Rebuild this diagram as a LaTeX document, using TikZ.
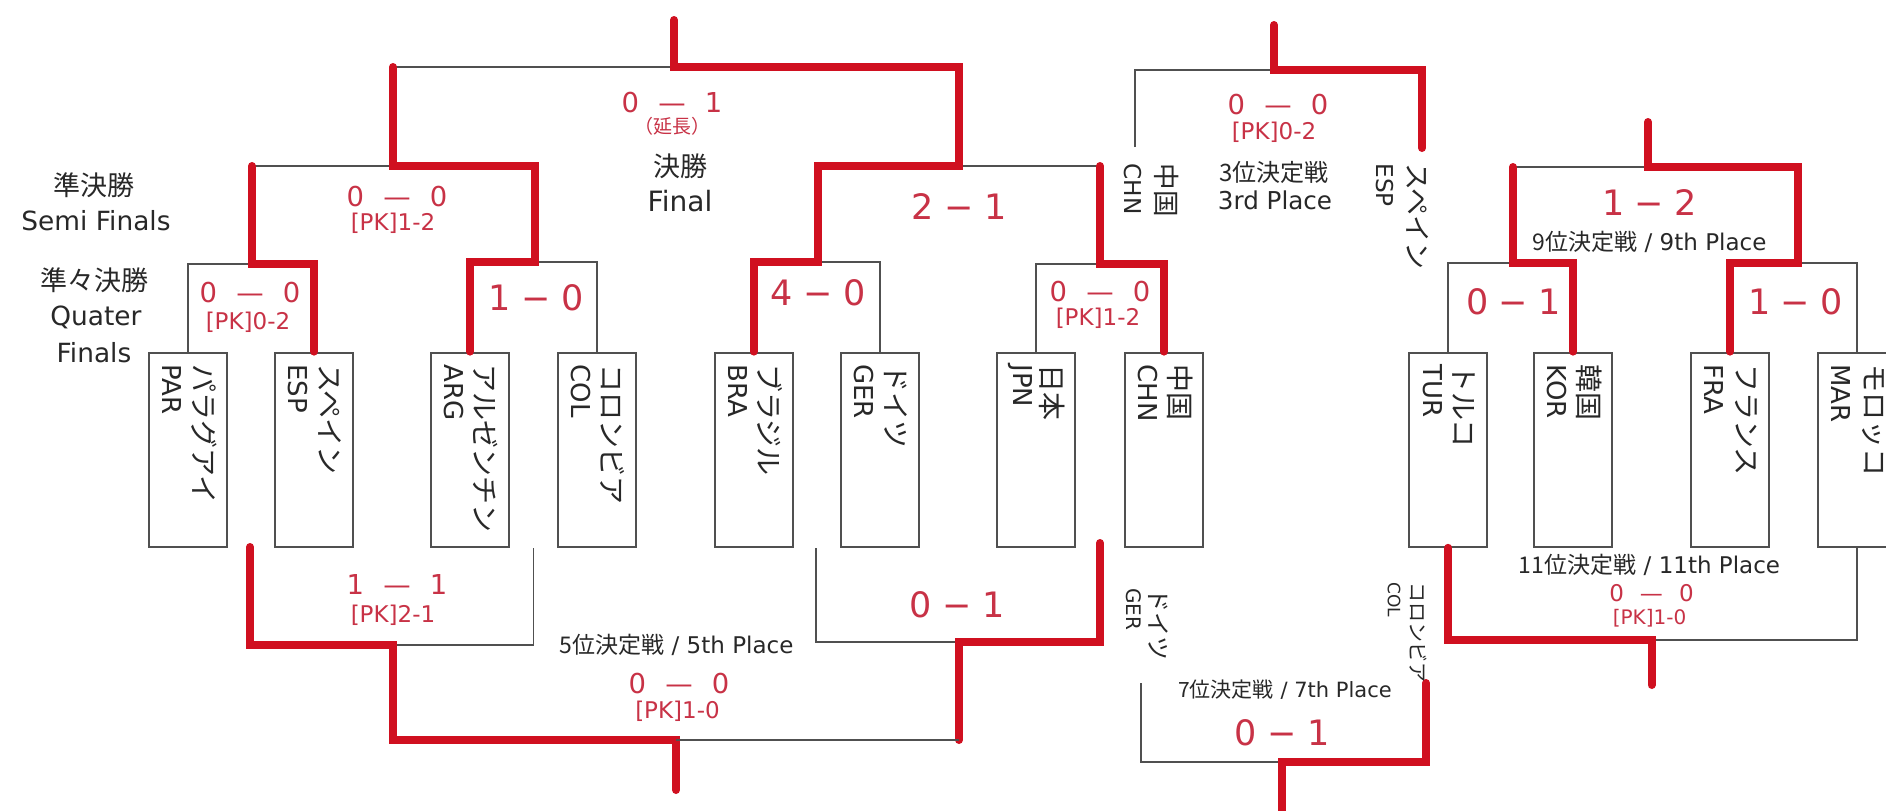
\documentclass[tikz,border=0pt]{standalone}
\usepackage{fontspec}
\setmainfont{DejaVu Sans}
\newfontfamily\jp{Noto Sans CJK JP}
\definecolor{rl}{RGB}{208,16,32}
\definecolor{rt}{RGB}{200,50,70}
\definecolor{bl}{RGB}{80,80,80}
\definecolor{tx}{RGB}{40,40,40}
\newcommand{\myfs}[1]{\fontsize{#1}{#1}\selectfont}
\newcommand{\myscore}[2]{#1\hspace{.7em}—\hspace{.7em}#2}
\newcommand{\bigscore}[2]{#1\hspace{.3em}−\hspace{.3em}#2}
\tikzset{
  winln/.style={draw=rl, line width=4pt, line cap=round, line join=miter},
  loseln/.style={draw=bl, line width=0.9pt},
  teambox/.style={draw=bl, line width=1.1pt, minimum width=39pt, minimum height=97pt, inner sep=0pt, fill=white},
  kanalbl/.style={rotate=-90, anchor=west, inner sep=0pt, text=tx, font=\jp\myfs{14}},
  codelbl/.style={rotate=-90, anchor=west, inner sep=0pt, text=tx, font=\myfs{13}},
  scorelbl/.style={text=rt, inner sep=0pt, font=\myfs{13.7}},
  pklbl/.style={text=rt, inner sep=0pt, font=\myfs{11.5}},
  biglbl/.style={text=rt, inner sep=0pt, font=\myfs{17.5}},
  placelbl/.style={text=tx, inner sep=0pt, font=\myfs{11.5}},
  stagelbl/.style={text=tx, inner sep=0pt, font=\myfs{13.2}},
  stagejp/.style={text=tx, inner sep=0pt, font=\jp\myfs{13.5}},
}
\begin{document}
\begin{tikzpicture}[x=0.5pt,y=-0.5pt]
\clip (0,0) rectangle (1886,810);
\fill[white] (0,0) rectangle (1886,810);

% team boxes
\foreach \nm/\cx/\kn in {PAR/188.3/パラグアイ, ESP/314.2/スペイン, ARG/469.9/アルゼンチン, COL/597/コロンビア,
  BRA/753.6/ブラジル, GER/880/ドイツ, JPN/1036.2/日本, CHN/1164/中国,
  TUR/1448.3/トルコ, KOR/1573.3/韓国, FRA/1730/フランス, MAR/1857.3/モロッコ}{
  \node[teambox] (\nm) at (\cx,449.7) {};
  \node[kanalbl] (\nm j) at (\cx+16,364) {\kn};
  \node[codelbl] (\nm c) at (\cx-16,364) {\nm};
}

% junction coordinates
\coordinate (q1) at (252,264);
\coordinate (q2) at (535,262);
\coordinate (q3) at (818,262);
\coordinate (q4) at (1100,264);
\coordinate (s1) at (393,166);
\coordinate (s2) at (959,166);
\coordinate (fj) at (674,67);
\coordinate (ftop) at (674,20);

% main bracket
\draw[loseln] (PAR.north) |- (q1);
\draw[loseln] (COL.north) |- (q2);
\draw[loseln] (GER.north) |- (q3);
\draw[loseln] (JPN.north) |- (q4);
\draw[loseln] (252,166) -- (s1);
\draw[loseln] (s1 |- fj) -- (fj);
\draw[loseln] (s2) -- (1100,166);
\draw[winln] (ESP.north) |- (q1) -- (252,166);
\draw[winln] (ARG.north) |- (q2) -- (535,166) -- (s1) -- (s1 |- fj);
\draw[winln] (BRA.north) |- (q3) -- (818,166) -- (s2) -- (s2 |- fj) -- (fj) -- (ftop);
\draw[winln] (CHN.north) |- (q4) -- (1100,166);

% 3rd place
\coordinate (t3) at (1274,70);
\draw[loseln] (1135,147) -- (1135,70) -- (t3);
\draw[winln] (1422,148) -- (1422,70) -- (t3) -- (1274,25);

% 9th place
\coordinate (n1) at (1513,263);
\coordinate (n2) at (1798,263);
\coordinate (n9) at (1648,167);
\draw[loseln] (TUR.north) |- (n1);
\draw[loseln] (MAR.north) |- (n2);
\draw[loseln] (1513,167) -- (n9);
\draw[winln] (KOR.north) |- (n1) -- (1513,167);
\draw[winln] (FRA.north) |- (n2) -- (1798,167) -- (n9) -- (1648,122);

% 5th place
\coordinate (p1) at (393,645);
\coordinate (p2) at (959,642);
\coordinate (p5) at (676,740);
\draw[loseln] (533.5,548) -- (533.5,645) -- (p1);
\draw[winln] (250,547) -- (250,645) -- (p1) -- (393,740) -- (p5) -- (676,790);
\draw[loseln] (816,548) -- (816,642) -- (p2);
\draw[winln] (1100,543) -- (1100,642) -- (p2) -- (959,740);
\draw[loseln] (959,740) -- (p5);

% 7th place
\coordinate (p7) at (1282,762);
\draw[loseln] (1141,683) -- (1141,762) -- (p7);
\draw[winln] (1426,683) -- (1426,762) -- (p7) -- (1282,830);

% 11th place
\coordinate (p11) at (1651.5,640);
\draw[loseln] (MAR.south) |- (p11);
\draw[winln] (TUR.south) |- (p11) -- (1651.5,685);

% stage labels
\node[stagejp] (l1) at (94,185) {準決勝};
\node[stagelbl] (l2) at (96,221) {Semi Finals};
\node[stagejp] (l3) at (94,280) {準々決勝};
\node[stagelbl] (l4) at (96,317) {Quater};
\node[stagelbl] (l5) at (94,353) {Finals};

% final
\node[scorelbl] (fs) at (672,103) {\myscore{0}{1}};
\node[text=rt, inner sep=0pt, font=\jp\myfs{9.5}] (fe) at (672,126) {（延長）};
\node[stagejp] (fl1) at (680,166) {決勝};
\node[stagelbl, font=\myfs{14}] (fl2) at (680,201) {Final};

% semis / qf scores
\node[scorelbl] (s1s) at (397,197) {\myscore{0}{0}};
\node[pklbl] (s1p) at (393,223) {[PK]1-2};
\node[biglbl] (s2s) at (959,207) {\bigscore{2}{1}};
\node[scorelbl] (q1s) at (250,293) {\myscore{0}{0}};
\node[pklbl] (q1p) at (248,322) {[PK]0-2};
\node[biglbl] (q2s) at (536,298) {\bigscore{1}{0}};
\node[biglbl] (q3s) at (818,293) {\bigscore{4}{0}};
\node[scorelbl] (q4s) at (1100,292) {\myscore{0}{0}};
\node[pklbl] (q4p) at (1098,318) {[PK]1-2};

% 3rd place texts
\node[scorelbl] (t3s) at (1278,105) {\myscore{0}{0}};
\node[pklbl] (t3p) at (1274,132) {[PK]0-2};
\node[text=tx, inner sep=0pt, font=\jp\myfs{12}] (t3l) at (1274,172) {3位決定戦};
\node[text=tx, inner sep=0pt, font=\myfs{12.3}] (t3e) at (1275,200) {3rd Place};
\node[kanalbl, font=\jp\myfs{13.3}] (t3aj) at (1167,163) {中国};
\node[codelbl, font=\myfs{11.6}] (t3ac) at (1133,163) {CHN};
\node[kanalbl, font=\jp\myfs{13.5}] (t3bj) at (1418,163) {スペイン};
\node[codelbl, font=\myfs{11.6}] (t3bc) at (1385,163) {ESP};

% 9th place texts
\node[biglbl] (n9s) at (1649.5,203) {\bigscore{1}{2}};
\node[placelbl] (n9l) at (1649.5,242) {{\jp 9位決定戦} / 9th Place};
\node[biglbl] (n1s) at (1513.6,302) {\bigscore{0}{1}};
\node[biglbl] (n2s) at (1795.5,302) {\bigscore{1}{0}};

% 5th place texts
\node[scorelbl] (p1s) at (397,585) {\myscore{1}{1}};
\node[pklbl] (p1p) at (393,615) {[PK]2-1};
\node[placelbl] (p5l) at (676.5,645) {{\jp 5位決定戦} / 5th Place};
\node[scorelbl] (p5s) at (679,684) {\myscore{0}{0}};
\node[pklbl] (p5p) at (677.5,711) {[PK]1-0};
\node[biglbl] (p2s) at (957,605) {\bigscore{0}{1}};

% 7th place texts
\node[kanalbl, font=\jp\myfs{12}] (p7aj) at (1158,588) {ドイツ};
\node[codelbl, font=\myfs{10}] (p7ac) at (1134,588) {GER};
\node[kanalbl, font=\jp\myfs{10}] (p7bj) at (1418,582) {コロンビア};
\node[codelbl, font=\myfs{8.5}] (p7bc) at (1394,582) {COL};
\node[placelbl, font=\myfs{10.5}] (p7l) at (1285,690) {{\jp 7位決定戦} / 7th Place};
\node[biglbl] (p7s) at (1282,733) {\bigscore{0}{1}};

% 11th place texts
\node[placelbl] (p11l) at (1649.5,565) {{\jp 11位決定戦} / 11th Place};
\node[scorelbl, font=\myfs{11.5}] (p11s) at (1651.5,593) {\myscore{0}{0}};
\node[pklbl, font=\myfs{10}] (p11p) at (1649.5,618) {[PK]1-0};
\end{tikzpicture}
\end{document}
